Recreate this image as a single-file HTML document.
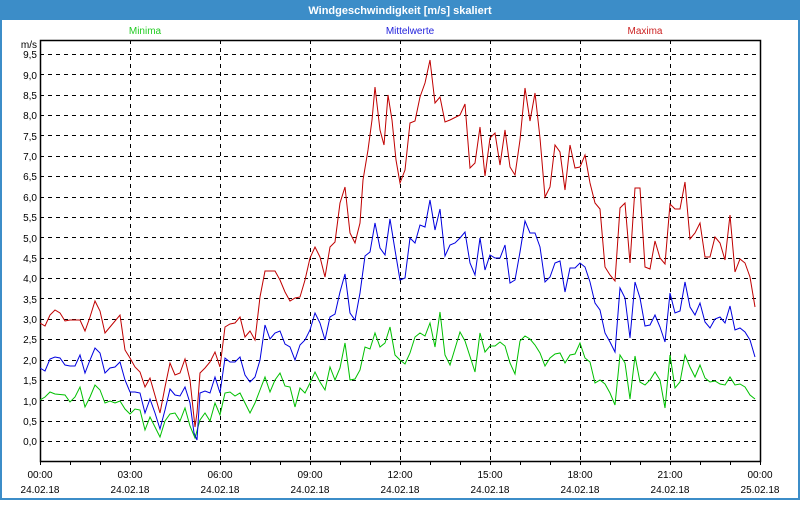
<!DOCTYPE html>
<html><head><meta charset="utf-8"><style>
html,body{margin:0;padding:0;background:#fff}
body{width:800px;height:500px;overflow:hidden;font-family:"Liberation Sans",sans-serif}
</style></head><body>
<svg width="800" height="500" xmlns="http://www.w3.org/2000/svg" font-family="Liberation Sans, sans-serif">
<rect x="0" y="0" width="800" height="500" fill="#fff"/>
<rect x="1" y="1" width="798" height="498" fill="none" stroke="#3c8dc8" stroke-width="2"/>
<rect x="0" y="0" width="800" height="20" fill="#3c8dc8"/>
<text x="400" y="14" text-anchor="middle" fill="#fff" font-size="11" font-weight="bold">Windgeschwindigkeit [m/s] skaliert</text>
<text x="145" y="34" text-anchor="middle" fill="#22cc22" font-size="10">Minima</text>
<text x="410" y="34" text-anchor="middle" fill="#2222dd" font-size="10">Mittelwerte</text>
<text x="645" y="34" text-anchor="middle" fill="#cc2222" font-size="10">Maxima</text>
<g stroke="#000" stroke-width="1" stroke-dasharray="4,4" fill="none">
<line x1="40" y1="54.5" x2="760" y2="54.5"/><line x1="40" y1="74.5" x2="760" y2="74.5"/><line x1="40" y1="95.5" x2="760" y2="95.5"/><line x1="40" y1="115.5" x2="760" y2="115.5"/><line x1="40" y1="135.5" x2="760" y2="135.5"/><line x1="40" y1="156.5" x2="760" y2="156.5"/><line x1="40" y1="176.5" x2="760" y2="176.5"/><line x1="40" y1="197.5" x2="760" y2="197.5"/><line x1="40" y1="217.5" x2="760" y2="217.5"/><line x1="40" y1="237.5" x2="760" y2="237.5"/><line x1="40" y1="258.5" x2="760" y2="258.5"/><line x1="40" y1="278.5" x2="760" y2="278.5"/><line x1="40" y1="298.5" x2="760" y2="298.5"/><line x1="40" y1="319.5" x2="760" y2="319.5"/><line x1="40" y1="339.5" x2="760" y2="339.5"/><line x1="40" y1="360.5" x2="760" y2="360.5"/><line x1="40" y1="380.5" x2="760" y2="380.5"/><line x1="40" y1="400.5" x2="760" y2="400.5"/><line x1="40" y1="421.5" x2="760" y2="421.5"/><line x1="40" y1="441.5" x2="760" y2="441.5"/>
<line x1="130.5" y1="40" x2="130.5" y2="461"/><line x1="220.5" y1="40" x2="220.5" y2="461"/><line x1="310.5" y1="40" x2="310.5" y2="461"/><line x1="400.5" y1="40" x2="400.5" y2="461"/><line x1="490.5" y1="40" x2="490.5" y2="461"/><line x1="580.5" y1="40" x2="580.5" y2="461"/><line x1="670.5" y1="40" x2="670.5" y2="461"/>
</g>
<g stroke="#000" stroke-width="1">
<line x1="70.5" y1="461" x2="70.5" y2="465"/><line x1="100.5" y1="461" x2="100.5" y2="465"/><line x1="130.5" y1="461" x2="130.5" y2="465"/><line x1="160.5" y1="461" x2="160.5" y2="465"/><line x1="190.5" y1="461" x2="190.5" y2="465"/><line x1="220.5" y1="461" x2="220.5" y2="465"/><line x1="250.5" y1="461" x2="250.5" y2="465"/><line x1="280.5" y1="461" x2="280.5" y2="465"/><line x1="310.5" y1="461" x2="310.5" y2="465"/><line x1="340.5" y1="461" x2="340.5" y2="465"/><line x1="370.5" y1="461" x2="370.5" y2="465"/><line x1="400.5" y1="461" x2="400.5" y2="465"/><line x1="430.5" y1="461" x2="430.5" y2="465"/><line x1="460.5" y1="461" x2="460.5" y2="465"/><line x1="490.5" y1="461" x2="490.5" y2="465"/><line x1="520.5" y1="461" x2="520.5" y2="465"/><line x1="550.5" y1="461" x2="550.5" y2="465"/><line x1="580.5" y1="461" x2="580.5" y2="465"/><line x1="610.5" y1="461" x2="610.5" y2="465"/><line x1="640.5" y1="461" x2="640.5" y2="465"/><line x1="670.5" y1="461" x2="670.5" y2="465"/><line x1="700.5" y1="461" x2="700.5" y2="465"/><line x1="730.5" y1="461" x2="730.5" y2="465"/><line x1="40.5" y1="461" x2="40.5" y2="465"/><line x1="760.5" y1="461" x2="760.5" y2="465"/>
</g>
<rect x="40.5" y="40.5" width="720" height="421" fill="none" stroke="#000" stroke-width="1.5"/>
<g font-size="10" fill="#000" text-anchor="end">
<text x="37" y="48">m/s</text>
<text x="37" y="58">9,5</text><text x="37" y="79">9,0</text><text x="37" y="99">8,5</text><text x="37" y="119">8,0</text><text x="37" y="140">7,5</text><text x="37" y="160">7,0</text><text x="37" y="180">6,5</text><text x="37" y="201">6,0</text><text x="37" y="221">5,5</text><text x="37" y="242">5,0</text><text x="37" y="262">4,5</text><text x="37" y="282">4,0</text><text x="37" y="303">3,5</text><text x="37" y="323">3,0</text><text x="37" y="343">2,5</text><text x="37" y="364">2,0</text><text x="37" y="384">1,5</text><text x="37" y="405">1,0</text><text x="37" y="425">0,5</text><text x="37" y="445">0,0</text>
</g>
<g font-size="10" fill="#000" text-anchor="middle">
<text x="40" y="478">00:00</text><text x="130" y="478">03:00</text><text x="220" y="478">06:00</text><text x="310" y="478">09:00</text><text x="400" y="478">12:00</text><text x="490" y="478">15:00</text><text x="580" y="478">18:00</text><text x="670" y="478">21:00</text><text x="760" y="478">00:00</text>
<text x="40" y="493">24.02.18</text><text x="130" y="493">24.02.18</text><text x="220" y="493">24.02.18</text><text x="310" y="493">24.02.18</text><text x="400" y="493">24.02.18</text><text x="490" y="493">24.02.18</text><text x="580" y="493">24.02.18</text><text x="670" y="493">24.02.18</text><text x="760" y="493">25.02.18</text>
</g>
<g fill="none" stroke-width="1">
<polyline stroke="#00c000" points="40,400 45,397 50,392 55,394 65,395 70,402 75,397 80,387 85,407 90,397 95,385 100,390 105,403 110,401 115,403 120,401 125,409 130,414 135,409 140,410 145,430 150,417 155,427 160,437 165,421 170,414 175,413 180,421 185,408 190,426 195,438 200,420 205,413 210,421 215,403 220,415 225,393 230,392 235,396 240,393 245,403 250,413 255,403 260,390 265,377 270,392 275,380 280,373 285,386 290,387 295,407 300,388 305,393 310,383 315,372 320,382 325,390 330,367 335,380 340,368 345,343 350,380 355,379 360,370 365,347 370,349 375,333 380,347 385,343 390,327 395,355 400,360 405,364 410,353 415,337 420,333 425,336 430,323 435,347 440,312 445,355 450,365 460,332 465,341 475,372 480,333 485,352 490,346 495,346 500,342 505,346 510,363 515,374 520,341 525,336 530,339 535,345 540,353 545,366 550,358 555,354 560,353 565,363 570,355 575,354 580,343 585,358 590,362 595,383 600,380 605,384 610,393 615,405 620,355 625,363 630,399 635,356 640,382 645,385 650,380 655,372 660,380 665,408 670,355 675,388 680,382 685,355 690,367 695,377 700,365 705,378 710,382 715,381 720,384 725,385 730,377 735,385 740,384 745,387 750,395 755,399"/>
<polyline stroke="#0000e0" points="40,368 45,371 50,359 55,357 60,358 65,365 70,366 75,366 80,355 85,373 90,360 95,348 100,353 105,373 110,368 115,367 120,362 125,380 130,392 135,392 140,393 145,413 150,399 155,413 160,429 165,410 170,389 175,395 180,396 185,387 190,403 194,433 197,440 200,393 205,391 210,393 215,377 220,393 225,358 230,362 235,362 240,357 245,375 250,382 255,377 260,360 265,325 270,339 275,333 280,331 285,344 290,347 295,360 300,345 305,340 310,330 315,313 320,323 325,340 330,317 335,314 340,292 345,274 350,313 355,320 360,293 365,256 370,252 375,223 380,248 385,255 390,219 395,250 400,280 405,278 410,238 415,243 420,225 425,227 430,200 435,230 440,209 445,256 450,245 455,243 460,238 465,232 470,263 475,275 480,238 485,270 490,255 495,258 500,258 505,245 510,283 515,280 520,252 525,221 530,233 535,233 540,247 545,282 550,277 555,263 560,261 565,292 570,268 575,268 580,263 585,267 590,282 595,303 600,310 605,333 610,342 615,352 620,288 625,298 630,338 635,282 640,298 645,326 650,325 655,315 660,327 665,342 670,293 675,313 680,311 685,282 690,307 695,315 700,303 705,322 710,328 715,319 720,317 725,323 730,306 735,330 740,328 745,332 750,340 755,357"/>
<polyline stroke="#c00000" points="40,323 45,326 50,315 55,310 60,313 65,321 70,320 80,320 85,331 90,317 95,301 100,311 105,333 110,327 120,315 125,350 130,358 135,367 140,372 145,387 150,378 160,413 165,387 170,363 175,375 180,373 185,359 190,380 195,427 197,413 200,373 205,368 210,362 215,352 220,367 225,327 230,324 235,323 240,317 245,337 250,331 255,340 260,297 265,271 275,271 280,280 285,292 290,301 295,298 300,297 305,280 310,258 315,247 320,257 325,277 330,247 335,242 340,203 345,187 350,233 355,243 360,223 363,180 368,150 372,120 375,87 380,130 384,145 388,95 392,120 396,160 400,183 405,170 410,123 415,121 420,97 425,83 430,60 435,103 440,97 445,122 450,120 460,115 465,104 470,168 475,163 480,127 485,176 490,138 495,133 500,165 505,130 510,167 515,175 520,140 525,88 530,121 535,93 540,138 545,197 550,187 555,145 560,152 565,190 570,145 575,168 580,167 585,155 590,183 595,203 600,209 605,267 610,275 615,281 620,208 625,203 630,263 635,188 640,188 645,267 650,269 655,241 660,258 665,264 670,204 675,209 680,209 685,182 690,239 695,233 700,223 705,257 710,257 715,237 720,243 725,260 730,215 735,272 740,259 745,263 750,277 755,307"/>
</g>
</svg>
</body></html>
